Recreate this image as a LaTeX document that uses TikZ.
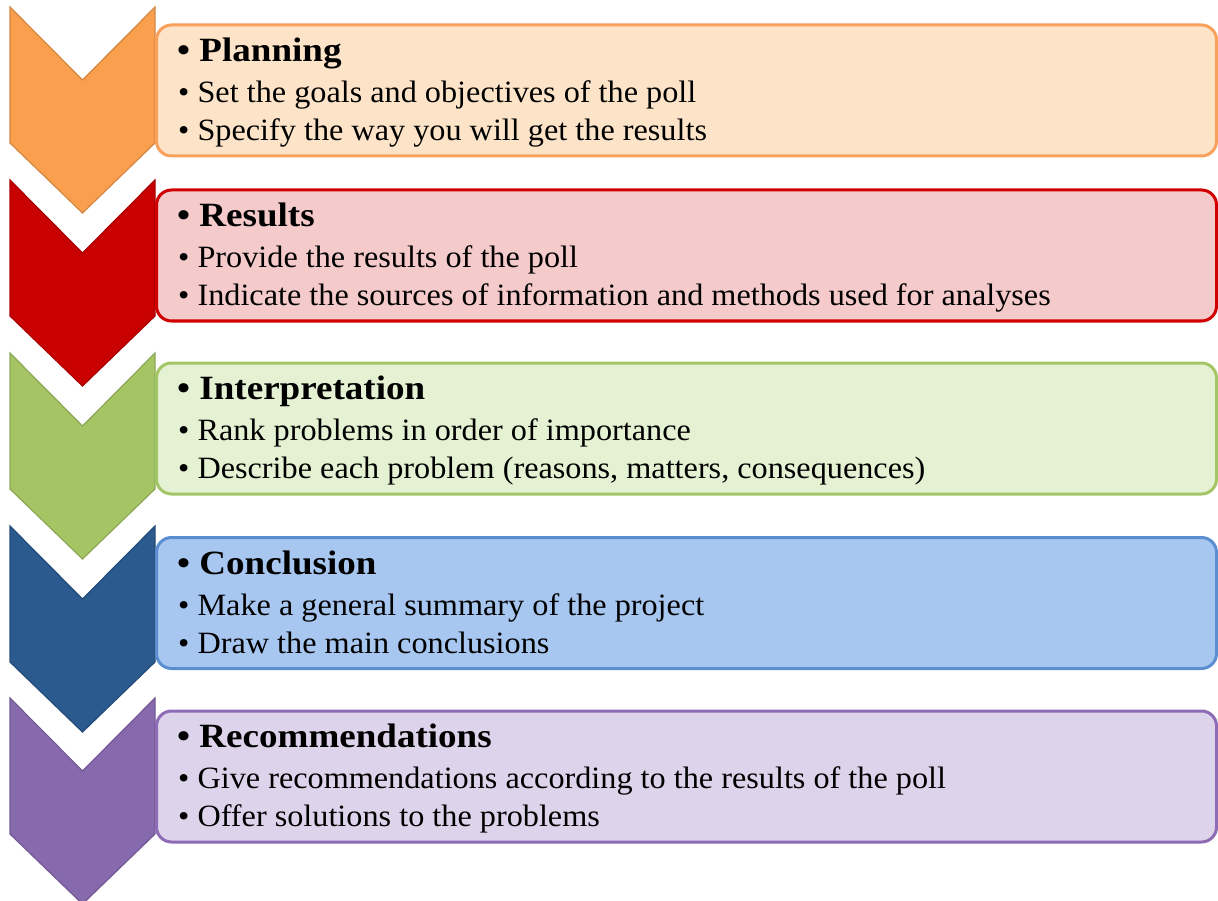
\documentclass[tikz,border=0pt]{standalone}
\usepackage{fontspec}
\setmainfont{Liberation Serif}[FakeStretch=1.04, BoldFeatures={FakeStretch=1.09}]
\definecolor{planArrow}{HTML}{F99F4E}
\definecolor{planLine}{HTML}{F9A05A}
\definecolor{planFill}{HTML}{FDE4C8}
\definecolor{resArrow}{HTML}{C80000}
\definecolor{resLine}{HTML}{D10000}
\definecolor{resFill}{HTML}{F5CACA}
\definecolor{intArrow}{HTML}{A5C565}
\definecolor{intLine}{HTML}{A3C565}
\definecolor{intFill}{HTML}{E5F1D3}
\definecolor{conArrow}{HTML}{2A5A8E}
\definecolor{conLine}{HTML}{5B8ED0}
\definecolor{conFill}{HTML}{A7C7F0}
\definecolor{recArrow}{HTML}{8769AE}
\definecolor{recLine}{HTML}{8D6BB5}
\definecolor{recFill}{HTML}{DDD3EA}

\begin{document}
\begin{tikzpicture}[x=1pt, y=-1pt,
  chevron/.style={line width=1.2pt, line join=miter},
  stagebox/.style={draw, line width=3pt, rounded corners=15pt, anchor=north west,
    minimum width=1060pt, minimum height=131pt, inner sep=0pt},
  stagehead/.style={anchor=base west, inner sep=0pt, font=\fontsize{34}{40}\selectfont\bfseries},
  stageitem/.style={anchor=base west, inner sep=0pt, font=\fontsize{31}{36}\selectfont}]
\useasboundingbox (0,0) rectangle (1218,901);
% five-step report flow: chevron on the left, rounded box with bullets on the right
\fill[planArrow, chevron, draw=planArrow!85!black] (10,7) -- (82.5,80) -- (155,7) -- (155,143) -- (82.5,213) -- (10,143) -- cycle;
\fill[resArrow, chevron, draw=resArrow!85!black] (10,180) -- (82.5,253) -- (155,180) -- (155,316) -- (82.5,386) -- (10,316) -- cycle;
\fill[intArrow, chevron, draw=intArrow!85!black] (10,353) -- (82.5,426) -- (155,353) -- (155,489) -- (82.5,559) -- (10,489) -- cycle;
\fill[conArrow, chevron, draw=conArrow!85!black] (10,526) -- (82.5,599) -- (155,526) -- (155,662) -- (82.5,732) -- (10,662) -- cycle;
\fill[recArrow, chevron, draw=recArrow!85!black] (10,698) -- (82.5,771) -- (155,698) -- (155,834) -- (82.5,904) -- (10,834) -- cycle;

\node[stagebox, draw=planLine, fill=planFill] (plan) at (155,23.5) {};
\node[stagebox, draw=resLine, fill=resFill] (res) at (155,188.5) {};
\node[stagebox, draw=intLine, fill=intFill] (interp) at (155,361.5) {};
\node[stagebox, draw=conLine, fill=conFill] (concl) at (155,536) {};
\node[stagebox, draw=recLine, fill=recFill] (recom) at (155,709.5) {};

\node[stagehead] (planHead) at (177,61.5) {\textbullet\ Planning};
\node[stageitem] (planA) at (178,102.5) {\textbullet\ Set the goals and objectives of the poll};
\node[stageitem] (planB) at (178,140.5) {\textbullet\ Specify the way you will get the results};

\node[stagehead] (resHead) at (177,226.5) {\textbullet\ Results};
\node[stageitem] (resA) at (178,267.5) {\textbullet\ Provide the results of the poll};
\node[stageitem] (resB) at (178,305.5) {\textbullet\ Indicate the sources of information and methods used for analyses};

\node[stagehead] (interpHead) at (177,399.5) {\textbullet\ Interpretation};
\node[stageitem] (interpA) at (178,440.5) {\textbullet\ Rank problems in order of importance};
\node[stageitem] (interpB) at (178,478.5) {\textbullet\ Describe each problem (reasons, matters, consequences)};

\node[stagehead] (conclHead) at (177,574) {\textbullet\ Conclusion};
\node[stageitem] (conclA) at (178,615) {\textbullet\ Make a general summary of the project};
\node[stageitem] (conclB) at (178,653) {\textbullet\ Draw the main conclusions};

\node[stagehead] (recomHead) at (177,747.5) {\textbullet\ Recommendations};
\node[stageitem] (recomA) at (178,788.5) {\textbullet\ Give recommendations according to the results of the poll};
\node[stageitem] (recomB) at (178,826.5) {\textbullet\ Offer solutions to the problems};
\end{tikzpicture}
\end{document}
